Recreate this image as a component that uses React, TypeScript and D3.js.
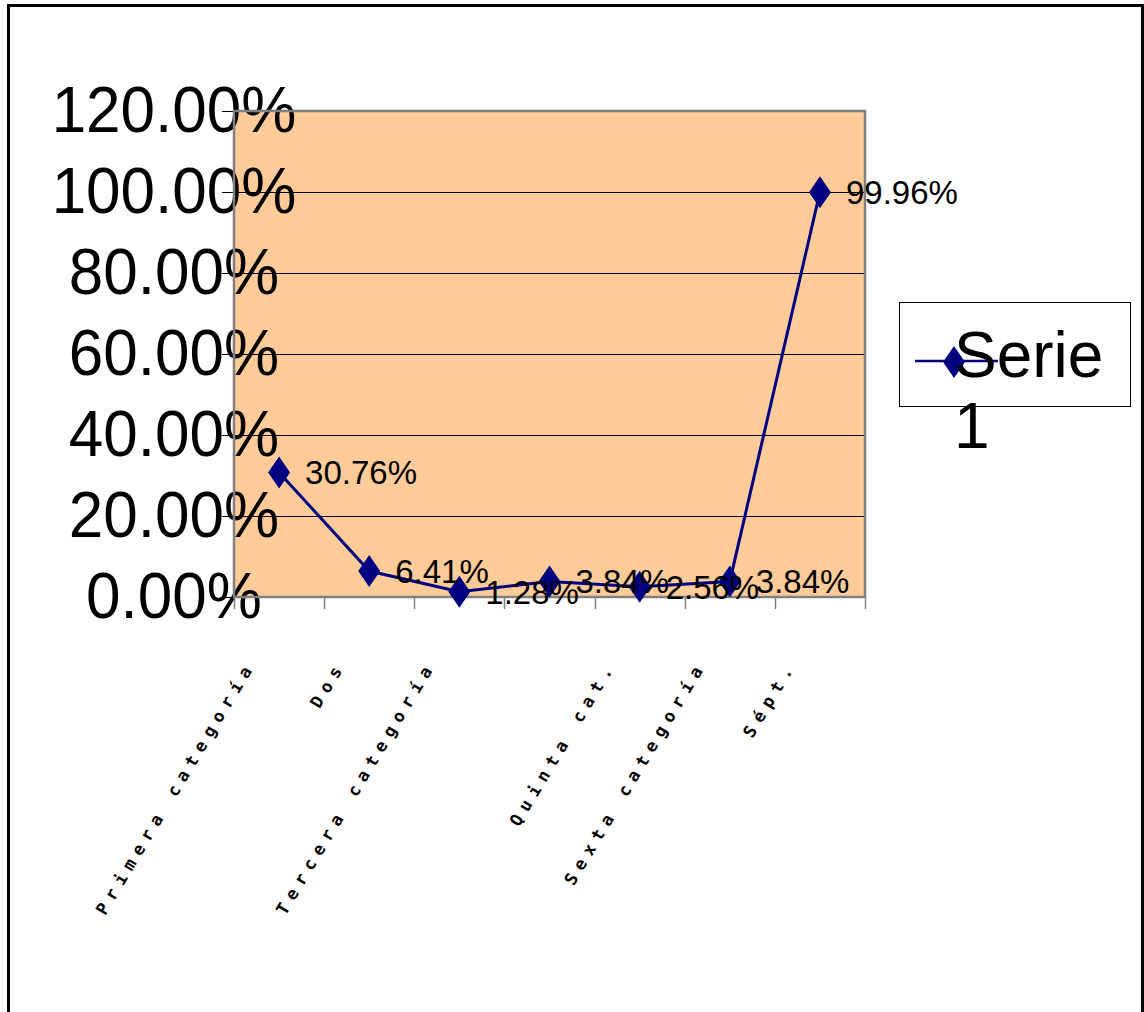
import * as d3 from "d3"

// values
const categories = ["Primera categoría", "Dos", "Tercera categoría", "", "Quinta cat.", "Sexta categoría", "Sépt."]
const serie1 = [30.76, 6.41, 1.28, 3.84, 2.56, 3.84, 99.96]
const yTicks = [0, 20, 40, 60, 80, 100, 120]
const seriesName = ["Serie", "1"]

const W = 1144
const H = 1012
const plot = { left: 234, right: 865, top: 111, bottom: 597 }
const navy = "#000080"
const font = "'Liberation Sans', Arial, sans-serif"

export default function App() {
  const x = d3
    .scaleBand<number>()
    .domain(d3.range(categories.length))
    .range([plot.left, plot.right])
    .padding(0)
  const y = d3.scaleLinear().domain([0, 120]).range([plot.bottom, plot.top])
  const cx = (i: number) => (x(i) || 0) + x.bandwidth() / 2
  const crisp = (v: number) => Math.round(v) + 0.5

  const line = d3
    .line<number>()
    .x((_, i) => cx(i))
    .y((d) => y(d))

  const diamond = "M0,-16 L11,0 L0,16 L-11,0 Z"

  return (
    <svg
      width={W}
      height={H}
      style={{ position: "absolute", left: 0, top: 0, background: "#fff" }}
    >
      {/* chart frame */}
      <rect x={8.5} y={5.5} width={1134} height={1030} fill="#fff" stroke="#000" strokeWidth={3} />

      {/* plot area */}
      <rect x={plot.left} y={plot.top} width={plot.right - plot.left} height={plot.bottom - plot.top} fill="#FFCC99" />

      {/* y axis labels */}
      {yTicks.map((t) => (
        <text
          key={"yl" + t}
          transform={`translate(174,${y(t) + 21}) scale(1,1.04)`}
          textAnchor="middle"
          fontFamily={font}
          fontSize={62}
          fill="#000"
        >
          {t.toFixed(2) + "%"}
        </text>
      ))}

      {/* gridlines + y ticks */}
      {yTicks.map((t) => (
        <line
          key={"g" + t}
          x1={plot.left - 12}
          x2={plot.right}
          y1={crisp(y(t))}
          y2={crisp(y(t))}
          stroke="#000"
          strokeWidth={1}
          shapeRendering="crispEdges"
        />
      ))}

      <rect
        x={plot.left}
        y={plot.top}
        width={plot.right - plot.left}
        height={plot.bottom - plot.top}
        fill="none"
        stroke="#808080"
        strokeWidth={2.5}
      />

      {/* x ticks */}
      {d3.range(categories.length + 1).map((i) => {
        const xx = crisp(i < categories.length ? x(i) || 0 : plot.right)
        return (
          <line
            key={"xt" + i}
            x1={xx}
            x2={xx}
            y1={plot.bottom}
            y2={plot.bottom + 12}
            stroke="#808080"
            strokeWidth={1.5}
          />
        )
      })}

      {/* series line */}
      <path d={line(serie1) || ""} fill="none" stroke={navy} strokeWidth={3} />
      {serie1.map((v, i) => (
        <path key={"m" + i} d={diamond} transform={`translate(${cx(i)},${y(v)})`} fill={navy} />
      ))}

      {/* data labels */}
      {serie1.map((v, i) => (
        <text
          key={"dl" + i}
          x={cx(i) + 26}
          y={y(v) + 12}
          fontFamily={font}
          fontSize={33}
          fill="#000"
        >
          {v.toFixed(2) + "%"}
        </text>
      ))}

      {/* category labels */}
      {categories.map((c, i) => (
        <text
          key={"c" + i}
          transform={`translate(${cx(i) - 23},${plot.bottom + 68}) rotate(-59)`}
          textAnchor="end"
          fontFamily="'DejaVu Sans Mono', monospace"
          fontWeight="bold"
          fontSize={17}
          letterSpacing={7}
          fill="#000"
        >
          {c}
        </text>
      ))}

      {/* legend */}
      <rect x={899.5} y={302.5} width={231} height={104} fill="#fff" stroke="#000" strokeWidth={1} />
      <line x1={915} x2={998} y1={361} y2={361} stroke={navy} strokeWidth={2.5} />
      <path d={diamond} transform="translate(954,362)" fill={navy} />
      {seriesName.map((s, i) => (
        <text key={"lg" + i} x={954} y={377 + i * 71} fontFamily={font} fontSize={64} fill="#000">
          {s}
        </text>
      ))}
    </svg>
  )
}
